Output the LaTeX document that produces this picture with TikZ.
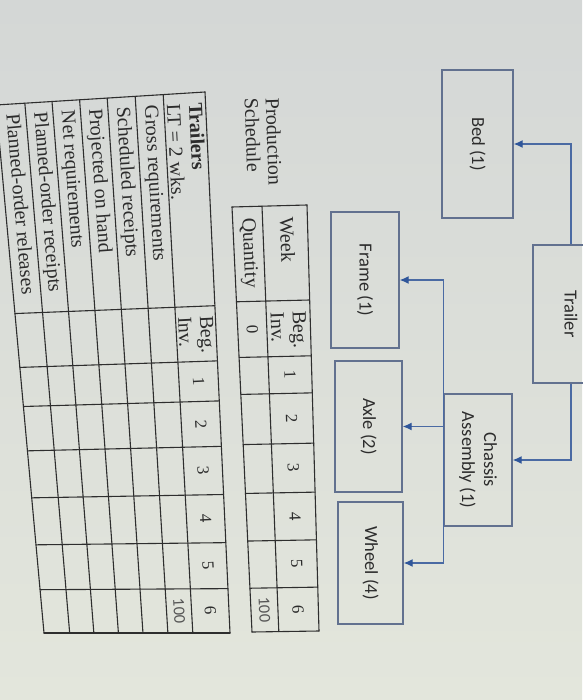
\documentclass[tikz,border=0pt]{standalone}
\usepackage{fontspec}
\setmainfont{Liberation Serif}
\newfontfamily\boxfont{Carlito}
\usetikzlibrary{calc,arrows.meta}
\definecolor{bgtop}{HTML}{D4D7D6}
\definecolor{bgbot}{HTML}{E3E6DC}
\definecolor{boxline}{HTML}{62718F}
\definecolor{linkc}{HTML}{4A6AA3}
\definecolor{tipc}{HTML}{2F569A}
\definecolor{gridc}{HTML}{2E2E2E}
\definecolor{txt}{HTML}{2C2C2C}
\newcommand\cellat[4]{%
  \path ($(#1TL)!#3!(#1BL)$) coordinate (tmpa);
  \path ($(#1TR)!#3!(#1BR)$) coordinate (tmpb);
  \path ($(tmpa)!#2!(tmpb)$) coordinate (#4);}
\begin{document}
\begin{tikzpicture}[x=1pt,y=-1pt,
  part/.style={draw=boxline,line width=1.3pt,rotate=-90,font=\boxfont\fontsize{18.5}{22}\selectfont,text=txt,align=center,inner sep=0pt},
  link/.style={draw=linkc,line width=1.3pt,-{Latex[length=9pt,width=8pt,color=tipc]}},
  grid/.style={draw=gridc,line width=1.1pt,line cap=round},
  lab/.style={font=\fontsize{20}{22}\selectfont,text=txt,inner sep=0pt,anchor=west,align=left},
  one/.style={text height=14pt,text depth=4pt},
  num/.style={font=\fontsize{17}{20}\selectfont,text=txt,inner sep=0pt}]
\useasboundingbox (0,0) rectangle (582,700);
\shade[top color=bgtop,bottom color=bgbot] (0,0) rectangle (582,700);

% ---------- production schedule table ----------
\coordinate (PTL) at (232,207);
\coordinate (PTR) at (307,205);
\coordinate (PBR) at (319,631);
\coordinate (PBL) at (252,632);
\foreach \u in {0,0.40,1}
  \draw[grid] ($(PTL)!\u!(PTR)$) -- ($(PBL)!\u!(PBR)$);
\foreach \v in {0,0.223,0.354,0.441,0.559,0.674,0.786,0.897,1}
  \draw[grid] ($(PTL)!\v!(PBL)$) -- ($(PTR)!\v!(PBR)$);
\cellat{P}{0.70}{0.026}{pw}
\node[lab,one,rotate=-88.1] (pweek) at (pw) {Week};
\cellat{P}{0.20}{0.026}{pq}
\node[lab,one,rotate=-87.5] (pqty) at (pq) {Quantity};
\cellat{P}{0.70}{0.249}{pb}
\node[lab,rotate=-88.1] (pbeg) at (pb) {Beg.\\Inv.};
\cellat{P}{0.20}{0.2885}{pz}
\node[num,rotate=-87.5] (pzero) at (pz) {0};
\foreach \v/\t [count=\i] in {0.3975/1,0.500/2,0.6165/3,0.730/4,0.8415/5,0.9485/6}{
  \cellat{P}{0.70}{\v}{pn\i}
  \node[num,rotate=-88.1] (pnum\i) at (pn\i) {\t};}
\cellat{P}{0.20}{0.9485}{ph}
\node[num,rotate=-87.5,font=\boxfont\fontsize{16.5}{20}\selectfont,text=txt!80] (phund) at (ph) {100};

\node[lab,rotate=-88,font=\fontsize{20}{21}\selectfont] (prodsched) at (262,98) {Production\\Schedule};

% ---------- MRP record table ----------
\coordinate (BTL) at (-4,105);
\coordinate (BTR) at (205,92);
\coordinate (BBR) at (230,633);
\coordinate (BBL) at (44,633);
\foreach \u in {0,0.138,0.268,0.40,0.532,0.666,0.80,1}
  \draw[grid] ($(BTL)!\u!(BTR)$) -- ($(BBL)!\u!(BBR)$);
\foreach \v in {0,0.395,0.497,0.571,0.655,0.744,0.833,0.918,1}
  \draw[grid] ($(BTL)!\v!(BBL)$) -- ($(BTR)!\v!(BBR)$);
\foreach \u/\a/\t [count=\i] in {0.069/-85.0/Planned-order releases,
    0.203/-85.3/Planned-order receipts,
    0.334/-85.7/Net requirements,
    0.466/-86.0/Projected on hand,
    0.599/-86.4/Scheduled receipts,
    0.733/-86.7/Gross requirements}{
  \cellat{B}{\u}{0.018}{bl\i}
  \node[lab,one,rotate=\a] (brow\i) at (bl\i) {\t};}
\cellat{B}{0.90}{0.018}{bh}
\node[lab,rotate=-87.1] (bhead) at (bh) {\textbf{Trailers}\\LT = 2 wks.};
\cellat{B}{0.90}{0.413}{bb}
\node[lab,rotate=-87.1] (bbeg) at (bb) {Beg.\\Inv.};
\foreach \v/\t [count=\i] in {0.534/1,0.613/2,0.6995/3,0.7885/4,0.8755/5,0.959/6}{
  \cellat{B}{0.90}{\v}{bn\i}
  \node[num,rotate=-87.1] (bnum\i) at (bn\i) {\t};}
\cellat{B}{0.733}{0.959}{bg}
\node[num,rotate=-86.7,font=\boxfont\fontsize{16.5}{20}\selectfont,text=txt!80] (bhund) at (bg) {100};

% ---------- product structure ----------
\node[part,minimum width=138pt,minimum height=76pt] (trailer) at (571,314) {Trailer};
\node[part,minimum width=148pt,minimum height=71pt] (bed) at (477.5,144) {Bed (1)};
\node[part,minimum width=132pt,minimum height=68pt] (chassis) at (478,460) {Chassis\\Assembly (1)};
\node[part,minimum width=136pt,minimum height=68pt] (frame) at (365,280) {Frame (1)};
\node[part,minimum width=131pt,minimum height=67pt] (axle) at (368.5,426.5) {Axle (2)};
\node[part,minimum width=122pt,minimum height=65pt] (wheel) at (370.5,563) {Wheel (4)};

\draw[link] (trailer.west) |- (bed.north);
\draw[link] (trailer.east) |- (chassis.north);
\draw[link] (chassis.south) |- (frame.north);
\draw[link] (chassis.south) |- (axle.north);
\draw[link] (chassis.south) |- (wheel.north);
\end{tikzpicture}
\end{document}
